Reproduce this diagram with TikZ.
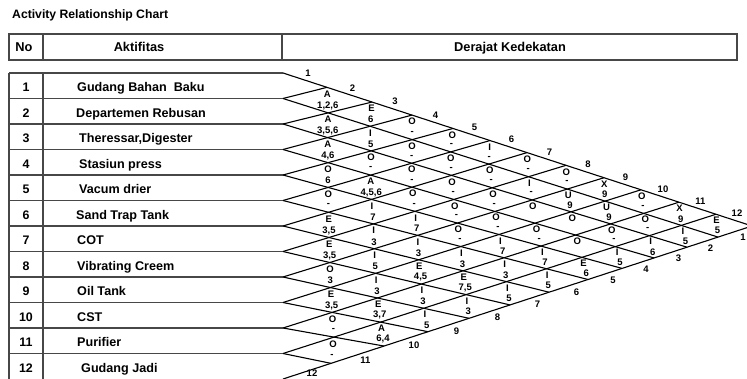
\documentclass[tikz,border=0pt]{standalone}
\usepackage{fontspec}
\setmainfont{Liberation Sans}
\usetikzlibrary{calc}
\begin{document}
\begin{tikzpicture}[x=1pt,y=-1pt,
  tline/.style={draw=black!72, line width=1.4pt},
  gline/.style={draw=black, line width=1.1pt},
  lett/.style={font=\fontsize{9.5}{9.5}\selectfont\bfseries, inner sep=0pt},
  elab/.style={font=\fontsize{9.5}{9.5}\selectfont\bfseries, inner sep=0pt},
  rowno/.style={font=\fontsize{12.4}{14}\selectfont\bfseries, inner sep=0pt, anchor=base},
  rowname/.style={font=\fontsize{12.6}{14}\selectfont\bfseries, inner sep=0pt, anchor=base west},
  head/.style={font=\fontsize{12.8}{14}\selectfont\bfseries, inner sep=0pt, anchor=base},
]
\useasboundingbox (0,0) rectangle (747,379);
\clip (0,0) rectangle (747,379);

\def\XT{{283,327,372,412,453,490,527,566,604,641,679,716,752}}
\def\XB{{752,718,687,654,622,588,549,510,469,428,384,331,283}}

% title
\node[inner sep=0pt, anchor=base west, font=\fontsize{12.2}{14}\selectfont\bfseries] (title) at (12,18.5) {Activity Relationship Chart};

% header
\draw[tline] (9,34) rectangle (737,60);
\draw[tline] (43,34) -- (43,60);
\draw[tline] (282,34) -- (282,60);
\node[head] (hNo) at (24,51.5) {No};
\node[head] (hAkt) at (139,51.5) {Aktifitas};
\node[head] (hDer) at (510,51.5) {Derajat Kedekatan};

% tips at row boundaries
\foreach \k in {0,...,12} \coordinate (L\k) at (283,{73+25.5*\k});
% points on top edge
\foreach \b in {0,...,12} {
  \pgfmathsetmacro\myx{\XT[\b]}
  \coordinate (T\b) at (\myx,{73+(\myx-283)*0.32623});
}
% points on bottom edge
\foreach \a in {0,...,12} {
  \pgfmathsetmacro\myx{\XB[\a]}
  \coordinate (B\a) at (\myx,{379-(\myx-283)*0.32623});
}

% body of table
\draw[tline] (9,73) -- (9,379);
\draw[tline] (43,73) -- (43,379);
\foreach \k in {0,...,11} \draw[tline] (9,{73+25.5*\k}) -- (L\k);

\foreach \n/\nm/\x in {1/{Gudang Bahan\ \ Baku}/77, 2/{Departemen Rebusan}/76, 3/{Theressar,Digester}/79,
  4/{Stasiun press}/79, 5/{Vacum drier}/79, 6/{Sand Trap Tank}/76, 7/COT/77, 8/{Vibrating Creem}/77,
  9/{Oil Tank}/77, 10/CST/77, 11/Purifier/77, 12/{Gudang Jadi}/81}
{
  \node[rowno] (n\n) at (26,{73+25.5*(\n-0.5)+5.8}) {\n};
  \node[rowname] (a\n) at (\x,{73+25.5*(\n-0.5)+5.8}) {\nm};
}

% grid lines
\foreach \a in {0,...,11} \draw[gline] (L\a) -- (B\a);
\foreach \b in {1,...,12} \draw[gline] (L\b) -- (T\b);

% vertices (intersections of down-right line a and up-right line b)
\foreach \a in {1,...,10} {
  \pgfmathtruncatemacro\bs{\a+1}
  \foreach \b in {\bs,...,11} {
    \pgfmathsetmacro\mya{73+25.5*\a}
    \pgfmathsetmacro\myb{73+25.5*\b}
    \pgfmathsetmacro\myxb{\XB[\a]}
    \pgfmathsetmacro\myxt{\XT[\b]}
    \pgfmathsetmacro\mysa{(379-(\myxb-283)*0.32623-\mya)/(\myxb-283)}
    \pgfmathsetmacro\mytb{(73+(\myxt-283)*0.32623-\myb)/(\myxt-283)}
    \pgfmathsetmacro\myu{(\myb-\mya)/(\mysa-\mytb)}
    \coordinate (V\a-\b) at ({283+\myu},{\mya+\mysa*\myu});
  }
}
\foreach \b in {1,...,12} \coordinate (V0-\b) at (T\b);
\foreach \a in {1,...,11} \coordinate (V\a-12) at (B\a);

% cell contents
\foreach \i/\j/\l/\r in {
 1/2/A/{1,2,6}, 1/3/E/6, 1/4/O/-, 1/5/O/-, 1/6/I/-, 1/7/O/-, 1/8/O/-, 1/9/X/9, 1/10/O/-, 1/11/X/9, 1/12/E/5,
 2/3/A/{3,5,6}, 2/4/I/5, 2/5/O/-, 2/6/O/-, 2/7/O/-, 2/8/I/-, 2/9/U/9, 2/10/U/9, 2/11/O/-, 2/12/I/5,
 3/4/A/{4,6}, 3/5/O/-, 3/6/O/-, 3/7/O/-, 3/8/O/-, 3/9/O/{}, 3/10/O/{}, 3/11/O/-, 3/12/I/6,
 4/5/O/6, 4/6/A/{4,5,6}, 4/7/O/-, 4/8/O/-, 4/9/O/-, 4/10/O/-, 4/11/O/{}, 4/12/I/5,
 5/6/O/-, 5/7/I/7, 5/8/I/7, 5/9/O/-, 5/10/I/7, 5/11/I/7, 5/12/E/6,
 6/7/E/{3,5}, 6/8/I/3, 6/9/I/3, 6/10/I/3, 6/11/I/3, 6/12/I/5,
 7/8/E/{3,5}, 7/9/I/5, 7/10/E/{4,5}, 7/11/E/{7,5}, 7/12/I/5,
 8/9/O/3, 8/10/I/3, 8/11/I/3, 8/12/I/3,
 9/10/E/{3,5}, 9/11/E/{3,7}, 9/12/I/5,
 10/11/O/-, 10/12/A/{6,4},
 11/12/O/-}
{
  \pgfmathtruncatemacro\ip{\i-1}
  \pgfmathtruncatemacro\jp{\j-1}
  \node[lett] (c\i-\j) at ($(V\ip-\jp)!0.27!(V\i-\j)$) {\l};
  \node[lett] (r\i-\j) at ($(V\ip-\jp)!0.72!(V\i-\j)$) {\r};
}

% edge labels
\foreach \k in {1,...,12} {
  \pgfmathtruncatemacro\km{\k-1}
  \node[elab] (tl\k) at ($(T\km)!0.5!(T\k)+(3,-7)$) {\k};
}
\foreach \k in {1,...,11} {
  \pgfmathtruncatemacro\km{\k-1}
  \node[elab] (bl\k) at ($(B\k)!0.5!(B\km)+(8,6)$) {\k};
}
\node[elab] (bl12) at (312,373.5) {12};
\end{tikzpicture}
\end{document}
